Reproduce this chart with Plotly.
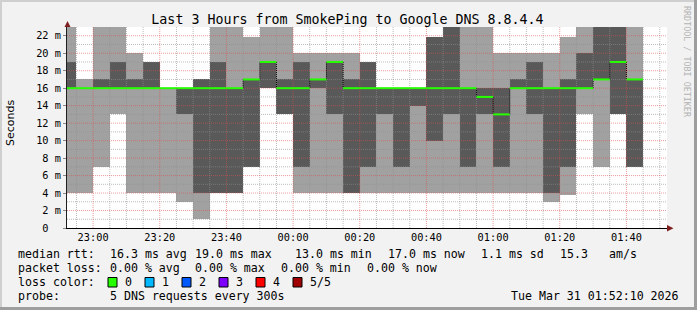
import plotly.graph_objects as go
import pandas as pd

# ---------------- data ----------------
times = ["22:55", "23:00", "23:05", "23:10", "23:15", "23:20", "23:25", "23:30", "23:35", "23:40",
         "23:45", "23:50", "23:55", "00:00", "00:05", "00:10", "00:15", "00:20", "00:25", "00:30",
         "00:35", "00:40", "00:45", "00:50", "00:55", "01:00", "01:05", "01:10", "01:15", "01:20",
         "01:25", "01:30", "01:35", "01:40", "01:45"]
ping1 = [4, 4, 7, 13, 4, 4, 4, 3, 1, 4, 4, 7, 16, 13, 4, 4, 4, 4, 4, 4,
         4, 4, 4, 4, 4, 4, 4, 4, 4, 3, 3.8, 13, 7, 13, 7]
ping2 = [16, 16, 16, 16, 16, 16, 16, 13, 4, 4, 4, 7, 16, 13, 7, 16, 13, 4, 7, 13,
         7, 14, 10, 13, 7, 13, 7, 16, 13, 4, 7, 16, 17, 13, 7]
median = [16, 16, 16, 16, 16, 16, 16, 16, 16, 16, 16, 17, 19, 16, 16, 17, 19, 16, 16, 16,
          16, 16, 16, 16, 16, 15, 13, 16, 16, 16, 16, 16, 17, 19, 17]
ping4 = [19, 16, 17, 19, 17, 19, 16, 16, 17, 19, 16, 17, 19, 17, 19, 17, 19, 17, 19, 16,
         16, 16, 21.8, 24, 16, 16, 16, 17, 19, 16, 17, 20, 24, 24, 17]
ping5 = [24, 17, 24, 24, 20, 19, 16, 16, 17, 24, 24, 21.8, 24, 24, 20, 20, 20, 20, 19, 16,
         16, 16, 21.8, 24, 24, 24, 20, 20, 20, 20, 21.8, 24, 24, 24, 24]

y_ticks = [0, 2, 4, 6, 8, 10, 12, 14, 16, 18, 20, 22]
y_ticktext = ["0\u00a0\u00a0"] + [f"{v}\u00a0m" for v in y_ticks[1:]]
y_minor = [1, 3, 5, 7, 9, 11, 13, 15, 17, 19, 21]

loss_labels = ["0", "1", "2", "3", "4", "5/5"]
loss_colors = ["#26ff00", "#00b8ff", "#0059ff", "#7e00ff", "#ff0000", "#a00000"]

title = "Last 3 Hours from SmokePing to Google DNS 8.8.4.4"
legend_lines = [
    (254.3, [("median rtt:", 16), ("16.3 ms avg", 107.6), ("19.0 ms max", 193), ("13.0 ms min", 293),
             ("17.0 ms now", 386), ("1.1 ms sd", 479), ("15.3", 558), ("am/s", 607)]),
    (268.3, [("packet loss:", 16), ("0.00 % avg", 107.6), ("0.00 % max", 193), ("0.00 % min", 279),
             ("0.00 % now", 365)]),
    (282.3, [("loss color:", 16)]),
    (296.0, [("probe:", 16), ("5 DNS requests every 300s", 107.6)]),
]
loss_label_x = [123, 160, 197, 234, 271, 308]
loss_box_x = [108, 145, 182, 219, 256, 293]
stamp = "Tue Mar 31 01:52:10 2026"

# ---------------- geometry ----------------
W, H = 697, 310
L, R, T, B = 67, 30, 27, 82
PW, PH = W - L - R, H - T - B
MONO = "DejaVu Sans Mono"


def px(x):
    return (x - L) / PW


def py(y):
    return (H - B - y) / PH


def to_dt(hm):
    day = "2026-03-30" if int(hm[:2]) >= 12 else "2026-03-31"
    return pd.Timestamp(f"{day} {hm}")


fmt = "%Y-%m-%d %H:%M:%S"
step = pd.Timedelta(seconds=300)
ends = [to_dt(t) for t in times]
centers = [(e - step / 2).strftime(fmt) for e in ends]
x_start = pd.Timestamp("2026-03-30 22:52:10")
x_end = pd.Timestamp("2026-03-31 01:52:10")

fig = go.Figure()

# smoke: outer (ping1..ping5) light, inner (ping2..ping4) dark
fig.add_trace(go.Bar(x=centers, y=[b - a for a, b in zip(ping1, ping5)], base=ping1,
                     width=300000, marker=dict(color="#a1a1a1", line=dict(width=0)),
                     hoverinfo="skip", showlegend=False))
fig.add_trace(go.Bar(x=centers, y=[b - a for a, b in zip(ping2, ping4)], base=ping2,
                     width=300000, marker=dict(color="#595959", line=dict(width=0)),
                     hoverinfo="skip", showlegend=False))


# grid (drawn over the smoke, like rrdtool)
def grid_h(vals, color):
    xs, ys = [], []
    for v in vals:
        xs += [x_start.strftime(fmt), x_end.strftime(fmt), None]
        ys += [v, v, None]
    return go.Scatter(x=xs, y=ys, mode="lines", line=dict(color=color, width=1, dash="1px,1px"),
                      hoverinfo="skip", showlegend=False)


def grid_v(stamps, color):
    xs, ys = [], []
    for s in stamps:
        xs += [s.strftime(fmt), s.strftime(fmt), None]
        ys += [0, 23, None]
    return go.Scatter(x=xs, y=ys, mode="lines", line=dict(color=color, width=1, dash="1px,1px"),
                      hoverinfo="skip", showlegend=False)


v_all = pd.date_range("2026-03-30 22:55", "2026-03-31 01:50", freq="5min")
v_major = [t for t in v_all if t.minute % 20 == 0]
v_minor = [t for t in v_all if t.minute % 20 != 0]
fig.add_trace(grid_h(y_minor, "rgba(143,143,143,0.6)"))
fig.add_trace(grid_v(v_minor, "rgba(143,143,143,0.6)"))
fig.add_trace(grid_h(y_ticks[1:], "rgba(222,79,79,0.55)"))
fig.add_trace(grid_v(v_major, "rgba(222,79,79,0.55)"))

# median line (green steps) + dotted connectors
mx, my, cx, cy = [], [], [], []
for i, (e, m) in enumerate(zip(ends, median)):
    mx += [(e - step).strftime(fmt), e.strftime(fmt), None]
    my += [m, m, None]
    if i + 1 < len(median) and median[i + 1] != m:
        cx += [e.strftime(fmt), e.strftime(fmt), None]
        cy += [m, median[i + 1], None]
fig.add_trace(go.Scatter(x=cx, y=cy, mode="lines", line=dict(color="#000000", width=1, dash="1px,1px"),
                         hoverinfo="skip", showlegend=False))
fig.add_trace(go.Scatter(x=mx, y=my, mode="lines", line=dict(color=loss_colors[0], width=2),
                         hoverinfo="skip", showlegend=False))

# ---------------- decorations ----------------
shapes = []
# 3D border
shapes.append(dict(type="rect", xref="paper", yref="paper", x0=px(0), x1=px(W), y0=py(0), y1=py(2),
                   fillcolor="#cfcfcf", line=dict(width=0), layer="below"))
shapes.append(dict(type="rect", xref="paper", yref="paper", x0=px(0), x1=px(2), y0=py(0), y1=py(H),
                   fillcolor="#cfcfcf", line=dict(width=0), layer="below"))
shapes.append(dict(type="rect", xref="paper", yref="paper", x0=px(0), x1=px(W), y0=py(H - 3), y1=py(H),
                   fillcolor="#9e9e9e", line=dict(width=0), layer="below"))
shapes.append(dict(type="rect", xref="paper", yref="paper", x0=px(W - 3), x1=px(W), y0=py(0), y1=py(H),
                   fillcolor="#9e9e9e", line=dict(width=0), layer="below"))
# axis arrows
shapes.append(dict(type="path", xref="paper", yref="paper",
                   path=f"M {px(64.5)},{py(27)} L {px(70.5)},{py(27)} L {px(67.5)},{py(21)} Z",
                   fillcolor="#801f1f", line=dict(width=0)))
shapes.append(dict(type="path", xref="paper", yref="paper",
                   path=f"M {px(667)},{py(225)} L {px(667)},{py(231.5)} L {px(673.5)},{py(228.2)} Z",
                   fillcolor="#801f1f", line=dict(width=0)))
# loss colour boxes
for bx, col in zip(loss_box_x, loss_colors):
    shapes.append(dict(type="rect", xref="paper", yref="paper", x0=px(bx), x1=px(bx + 9),
                       y0=py(287), y1=py(277.5), fillcolor=col, line=dict(color="#000000", width=1)))

annotations = []
for yy, items in legend_lines:
    for txt, xx in items:
        annotations.append(dict(text=txt, x=px(xx), y=py(yy), xref="paper", yref="paper",
                                xanchor="left", yanchor="middle", showarrow=False,
                                font=dict(family=MONO, size=11.6, color="#000000")))
for txt, xx in zip(loss_labels, loss_label_x):
    annotations.append(dict(text=txt, x=px(xx), y=py(282.3), xref="paper", yref="paper",
                            xanchor="left", yanchor="middle", showarrow=False,
                            font=dict(family=MONO, size=11.6, color="#000000")))
annotations.append(dict(text=stamp, x=px(681), y=py(296), xref="paper", yref="paper",
                        xanchor="right", yanchor="middle", showarrow=False,
                        font=dict(family=MONO, size=11.6, color="#000000")))
annotations.append(dict(text="Seconds", x=px(10), y=py(123), xref="paper", yref="paper",
                        xanchor="center", yanchor="middle", textangle=-90, showarrow=False,
                        font=dict(family="DejaVu Sans", size=11, color="#000000")))
annotations.append(dict(text="RRDTOOL / TOBI OETIKER", x=px(687), y=py(62), xref="paper", yref="paper",
                        xanchor="center", yanchor="middle", textangle=90, showarrow=False,
                        font=dict(family=MONO, size=8.4, color="#b4b4b4")))

fig.update_layout(
    width=W, height=H,
    margin=dict(l=L, r=R, t=T, b=B, pad=0),
    paper_bgcolor="#f2f2f2", plot_bgcolor="#ffffff",
    barmode="overlay", bargap=0,
    showlegend=False,
    title=dict(text=title, x=347.5 / W, y=1 - 19 / H, xref="container", yref="container",
               xanchor="center", yanchor="middle", font=dict(family=MONO, size=13.3, color="#000000")),
    xaxis=dict(type="date", range=[x_start.strftime(fmt), x_end.strftime(fmt)],
               showgrid=False, zeroline=False, showline=True, linecolor="#000000", linewidth=1,
               tick0="2026-03-30 23:00:00", dtick=1200000, tickformat="%H:%M",
               ticks="", tickfont=dict(family=MONO, size=10.3, color="#000000"), fixedrange=True),
    yaxis=dict(range=[0, 23], tickmode="array", tickvals=y_ticks, ticktext=y_ticktext,
               showgrid=False, zeroline=False, showline=True, linecolor="#1f1f1f", linewidth=1,
               ticks="outside", ticklen=3, tickcolor="#888888",
               tickfont=dict(family=MONO, size=10.3, color="#000000"), fixedrange=True),
    shapes=shapes, annotations=annotations,
)

fig.write_html("out.html", config={"displayModeBar": False})
